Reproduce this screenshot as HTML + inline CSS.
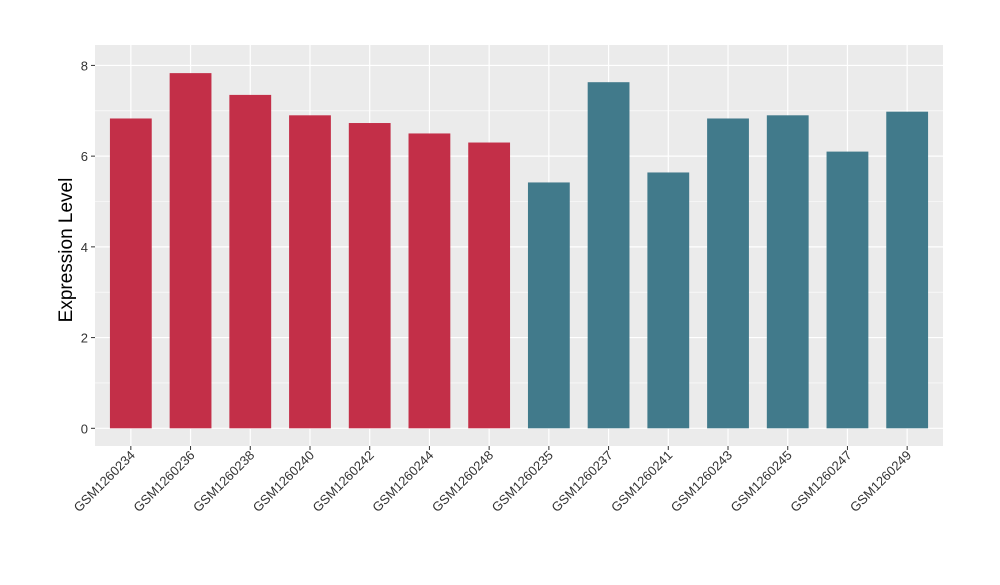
<!DOCTYPE html>
<html><head><meta charset="utf-8"><style>
body{margin:0;background:#fff;}
svg text{font-family:"Liberation Sans",Arial,sans-serif;}
</style></head><body>
<svg id="chart" width="1000" height="580" xmlns="http://www.w3.org/2000/svg">
<rect x="95" y="45" width="848" height="401" fill="#ebebeb"/>
<g id="grid"></g><g id="bars"></g><g id="axes"></g>
<text transform="translate(72,250) rotate(-90)" text-anchor="middle" font-size="19" fill="#000">Expression Level</text>
</svg>
<script>
const categories=["GSM1260234","GSM1260236","GSM1260238","GSM1260240","GSM1260242","GSM1260244","GSM1260248","GSM1260235","GSM1260237","GSM1260241","GSM1260243","GSM1260245","GSM1260247","GSM1260249"];
const values=[6.83,7.83,7.35,6.9,6.73,6.5,6.3,5.42,7.63,5.64,6.83,6.9,6.1,6.98];
const groups=["a","a","a","a","a","a","a","b","b","b","b","b","b","b"];
const yTicks=[0,2,4,6,8];
const colors={a:"#c32f48",b:"#417a8b"};
const ns="http://www.w3.org/2000/svg";
const px0=95,px1=943,py0=446,py1=45;
const ymin=-0.39,ymax=8.45;
const y=v=>py0-(v-ymin)/(ymax-ymin)*(py0-py1);
const step=(px1-px0)/(categories.length-1+1.2);
const x=i=>px0+(i+0.6)*step;
const bw=step*0.7;
function mk(t,a,p){const e=document.createElementNS(ns,t);for(const k in a)e.setAttribute(k,a[k]);p.appendChild(e);return e;}
const grid=document.getElementById('grid'),bars=document.getElementById('bars'),axes=document.getElementById('axes');
for(let k=0;k<yTicks.length-1;k++){const m=(yTicks[k]+yTicks[k+1])/2;
const g=mk('line',{x1:px0,x2:px1,y1:y(m),y2:y(m),stroke:'#fff','stroke-width':0.6},grid);

}
yTicks.forEach(t=>{const g=mk('line',{x1:px0,x2:px1,y1:y(t),y2:y(t),stroke:'#fff','stroke-width':1.2},grid);


const tk=mk('line',{x1:px0-4,x2:px0,y1:y(t),y2:y(t),stroke:'#333','stroke-width':1},axes);


const tx=mk('text',{x:px0-7,y:y(t)+5,'text-anchor':'end','font-size':13,fill:'#333'},axes);tx.textContent=t;

});
categories.forEach((c,i)=>{const g=mk('line',{x1:x(i),x2:x(i),y1:py1,y2:py0,stroke:'#fff','stroke-width':1.2},grid);


const b=mk('rect',{x:x(i)-bw/2,y:y(values[i]),width:bw,height:y(0)-y(values[i]),fill:colors[groups[i]]},bars);


const tk=mk('line',{x1:x(i),x2:x(i),y1:py0,y2:py0+4,stroke:'#333','stroke-width':1},axes);


const tx=mk('text',{transform:`translate(${x(i)+5},${py0+10}) rotate(-45)`,'text-anchor':'end','font-size':13,fill:'#333'},axes);tx.textContent=c;

});
</script>
</body></html>
